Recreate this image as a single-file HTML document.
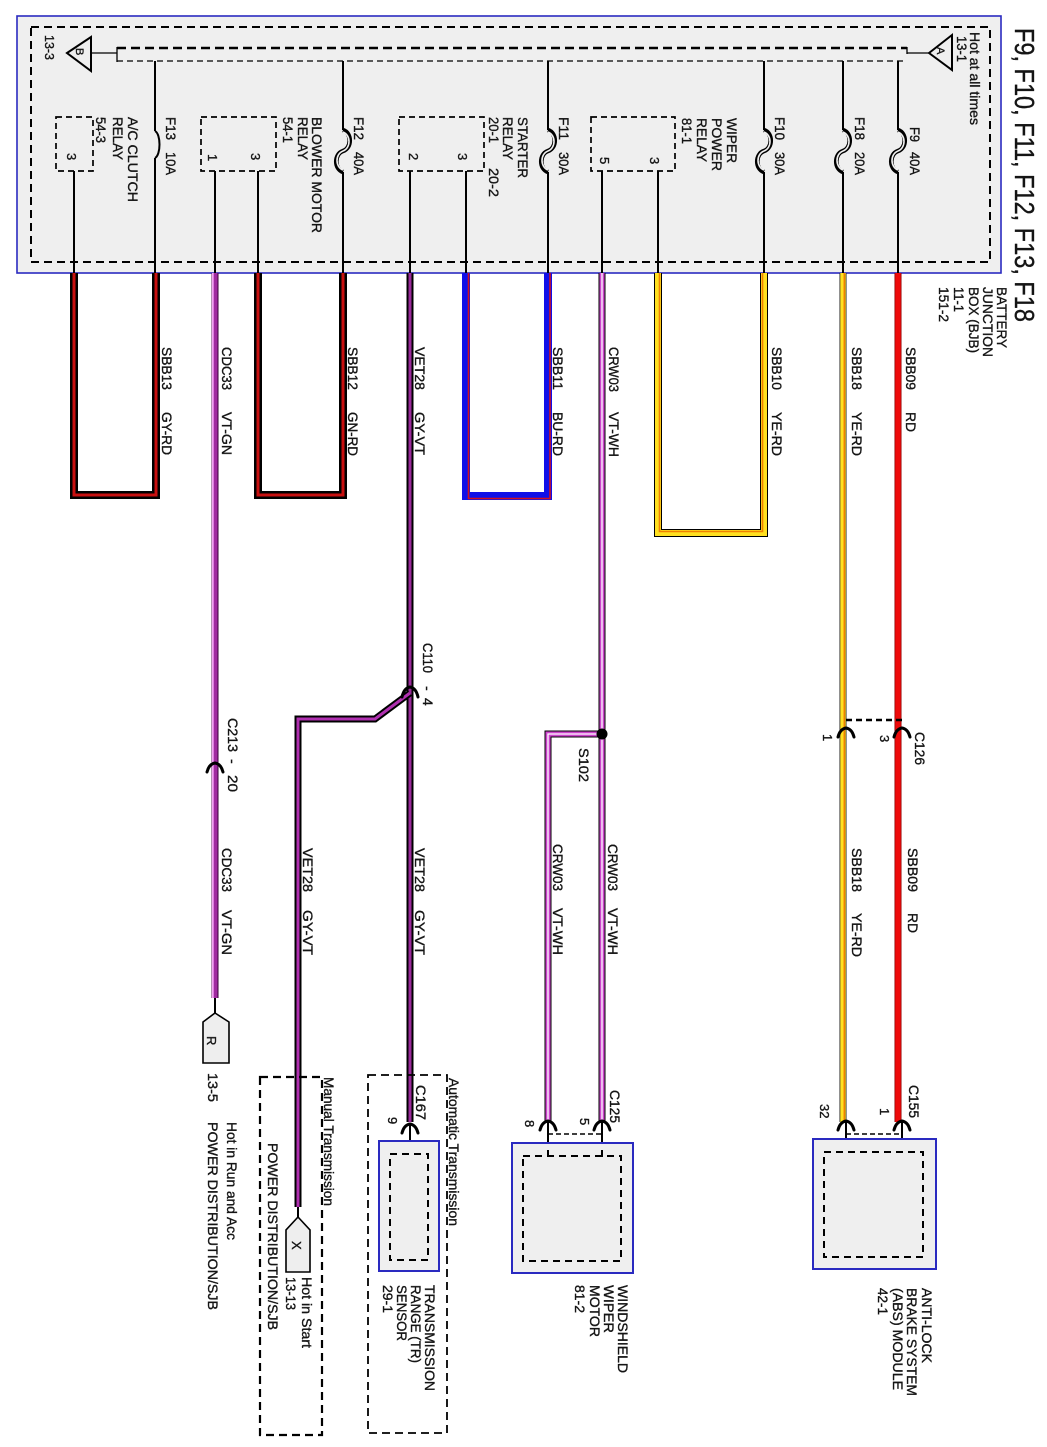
<!DOCTYPE html>
<html><head><meta charset="utf-8"><style>
html,body{margin:0;padding:0;background:#fff;}
svg{display:block;}
text{font-family:"Liberation Sans",Arial,sans-serif;fill:#151515;stroke:#151515;stroke-width:0.35;}
</style></head><body>
<svg width="1047" height="1447" viewBox="0 0 1047 1447" xmlns="http://www.w3.org/2000/svg">
<rect x="0" y="0" width="1047" height="1447" fill="#fff"/>

<!-- Junction box -->
<rect x="17" y="16" width="984" height="257" fill="#efefef" stroke="#2a2ac0" stroke-width="1.6"/>
<rect x="31" y="27" width="959" height="235" fill="none" stroke="#000" stroke-width="2" stroke-dasharray="8 5"/>

<!-- bus -->
<line x1="117" y1="48" x2="907" y2="48" stroke="#000" stroke-width="2.6" stroke-dasharray="9 5"/>
<line x1="117" y1="61" x2="907" y2="61" stroke="#000" stroke-width="1.3" stroke-dasharray="6 4"/>
<line x1="117" y1="47" x2="117" y2="62" stroke="#000" stroke-width="1.3"/>
<line x1="907" y1="47" x2="907" y2="54" stroke="#000" stroke-width="1.3"/>
<line x1="91" y1="53" x2="117" y2="53" stroke="#000" stroke-width="1.3"/>
<line x1="907" y1="53" x2="929" y2="53" stroke="#000" stroke-width="1.3"/>
<polygon points="67,53 91,37 91,71" fill="none" stroke="#000" stroke-width="2"/>
<polygon points="929,53 952,35 952,70" fill="none" stroke="#000" stroke-width="2"/>
<text transform="translate(76 48) rotate(90)" font-size="11">B</text>
<text transform="translate(937 47) rotate(90)" font-size="11">A</text>

<!-- relay boxes -->
<g fill="none" stroke="#000" stroke-width="1.7" stroke-dasharray="6 4">
<rect x="56" y="117" width="37" height="54"/>
<rect x="201" y="117" width="75" height="54"/>
<rect x="399" y="117" width="85" height="54"/>
<rect x="591" y="117" width="84" height="54"/>
</g>

<!-- internal thin wires -->
<g stroke="#000" stroke-width="2" fill="none">
<line x1="74" y1="171" x2="74" y2="274"/>
<line x1="215" y1="171" x2="215" y2="274"/>
<line x1="258" y1="171" x2="258" y2="274"/>
<line x1="410" y1="171" x2="410" y2="274"/>
<line x1="466" y1="171" x2="466" y2="274"/>
<line x1="602" y1="171" x2="602" y2="274"/>
<line x1="658" y1="171" x2="658" y2="274"/>
<line x1="155" y1="61" x2="155" y2="131"/><line x1="155" y1="158" x2="155" y2="274"/>
<line x1="343" y1="61" x2="343" y2="130"/><line x1="343" y1="172" x2="343" y2="274"/>
<line x1="548" y1="61" x2="548" y2="130"/><line x1="548" y1="172" x2="548" y2="274"/>
<line x1="764" y1="61" x2="764" y2="130"/><line x1="764" y1="172" x2="764" y2="274"/>
<line x1="843" y1="61" x2="843" y2="130"/><line x1="843" y1="172" x2="843" y2="274"/>
<line x1="898" y1="61" x2="898" y2="130"/><line x1="898" y1="172" x2="898" y2="274"/>
</g>
<!-- fuses -->
<g fill="none">
<path d="M155 131 C161 134,161 155,155 158" stroke="#000" stroke-width="2"/>
<g stroke="#000" stroke-width="4.6">
<path d="M343 130 C352 133,352 148,343 151 C334 154,334 169,343 172"/>
<path d="M548 130 C557 133,557 148,548 151 C539 154,539 169,548 172"/>
<path d="M764 130 C773 133,773 148,764 151 C755 154,755 169,764 172"/>
<path d="M843 130 C852 133,852 148,843 151 C834 154,834 169,843 172"/>
<path d="M898 130 C907 133,907 148,898 151 C889 154,889 169,898 172"/>
</g>
<g stroke="#efefef" stroke-width="1.6">
<path d="M343 132 C351 135,351 148,343 151 C335 154,335 167,343 170"/>
<path d="M548 132 C556 135,556 148,548 151 C540 154,540 167,548 170"/>
<path d="M764 132 C772 135,772 148,764 151 C756 154,756 167,764 170"/>
<path d="M843 132 C851 135,851 148,843 151 C835 154,835 167,843 170"/>
<path d="M898 132 C906 135,906 148,898 151 C890 154,890 167,898 170"/>
</g>
</g>

<!-- ===== external wires ===== -->
<g fill="none" stroke-linejoin="miter">
<path d="M74 273 V495 H156 V273" stroke="#000" stroke-width="8"/>
<path d="M74 273 V495 H156 V273" stroke="#c81010" stroke-width="3"/>
<path d="M258 273 V495 H343 V273" stroke="#000" stroke-width="8"/>
<path d="M258 273 V495 H343 V273" stroke="#c81010" stroke-width="3"/>
<path d="M466 273 V496 H548 V273" stroke="#1010e8" stroke-width="8"/>
<path d="M468.5 273 V498.5 H550 V273" stroke="#d01020" stroke-width="1.6"/>
<path d="M658 273 V533 H764 V273" stroke="#000" stroke-width="8"/>
<path d="M658 273 V533 H764 V273" stroke="#ffe020" stroke-width="6"/>
<path d="M659.5 273 V531.5 H762.5 V273" stroke="#f08000" stroke-width="1.6"/>

<path d="M215 273 V998" stroke="#3a003a" stroke-width="7"/>
<path d="M215 273 V998" stroke="#a02aa0" stroke-width="5"/>
<path d="M212.8 273 V998" stroke="#f2a4f2" stroke-width="1.8"/>
<line x1="215" y1="998" x2="215" y2="1013" stroke="#000" stroke-width="2"/>

<path d="M410 273 V1122" stroke="#000" stroke-width="7"/>
<path d="M410 273 V1122" stroke="#9a2a9a" stroke-width="3"/>
<path d="M410 693 L375 719 H298 V1207" stroke="#000" stroke-width="7"/>
<path d="M410 693 L375 719 H298 V1207" stroke="#b030b0" stroke-width="3"/>
<line x1="298" y1="1207" x2="298" y2="1217" stroke="#000" stroke-width="2"/>

<path d="M602 273 V1122" stroke="#000" stroke-width="7"/>
<path d="M602 273 V1122" stroke="#cc44cc" stroke-width="5"/>
<path d="M602 273 V1122" stroke="#fff" stroke-width="1.3"/>
<path d="M602 734 H548 V1122" stroke="#000" stroke-width="7"/>
<path d="M602 734 H548 V1122" stroke="#cc44cc" stroke-width="5"/>
<path d="M602 734 H548 V1122" stroke="#fff" stroke-width="1.3"/>

<path d="M843 273 V1122" stroke="#222" stroke-width="7"/>
<path d="M843 273 V1122" stroke="#ffe020" stroke-width="5.4"/>
<path d="M844.3 273 V1122" stroke="#f08000" stroke-width="1.5"/>

<path d="M898 273 V1122" stroke="#800" stroke-width="7"/>
<path d="M898 273 V1122" stroke="#ee0a0a" stroke-width="5.5"/>
</g>

<circle cx="602" cy="734" r="5.5" fill="#000"/>

<g fill="none" stroke="#000" stroke-width="3" stroke-linecap="round">
<path d="M402 697 Q404 688 410 687 Q416 688 418 697"/>
<path d="M207 772 Q209 764 215 763 Q221 764 223 772"/>
<path d="M838 737 Q840 729 846 728 Q852 729 854 737"/>
<path d="M894 737 Q896 729 902 728 Q908 729 910 737"/>
<path d="M540 1130 Q542 1122 548 1121 Q554 1122 556 1130"/>
<path d="M594 1130 Q596 1122 602 1121 Q608 1122 610 1130"/>
<path d="M838 1130 Q840 1122 846 1121 Q852 1122 854 1130"/>
<path d="M894 1130 Q896 1122 902 1121 Q908 1122 910 1130"/>
<path d="M402 1133 Q404 1125 410 1124 Q416 1125 418 1133"/>
</g>
<g stroke="#000" stroke-width="2">
<line x1="548" y1="1122" x2="548" y2="1157"/>
<line x1="602" y1="1122" x2="602" y2="1157"/>
<line x1="846" y1="1122" x2="846" y2="1153"/>
<line x1="902" y1="1122" x2="902" y2="1153"/>
<line x1="410" y1="1124" x2="410" y2="1155"/>
</g>
<line x1="846" y1="720" x2="902" y2="720" stroke="#000" stroke-width="2.4" stroke-dasharray="6 4"/>
<line x1="548" y1="1134" x2="602" y2="1134" stroke="#000" stroke-width="1.4" stroke-dasharray="5 3"/>
<line x1="846" y1="1134" x2="902" y2="1134" stroke="#000" stroke-width="1.4" stroke-dasharray="5 3"/>

<polygon points="215,1013 229,1022 229,1063 203,1063 203,1022" fill="#eee" stroke="#000" stroke-width="1.6"/>
<polygon points="298,1217 310,1230 310,1272 286,1272 286,1230" fill="#eee" stroke="#000" stroke-width="1.6"/>

<rect x="260" y="1077" width="62" height="358" fill="none" stroke="#000" stroke-width="2.2" stroke-dasharray="8 5"/>
<rect x="368" y="1075" width="79" height="358" fill="none" stroke="#000" stroke-width="1.8" stroke-dasharray="8 5"/>

<rect x="379" y="1141" width="60" height="130" fill="#efefef" stroke="#2a2ac0" stroke-width="2"/>
<rect x="390" y="1154" width="38" height="106" fill="none" stroke="#000" stroke-width="2" stroke-dasharray="7 5"/>
<rect x="512" y="1143" width="121" height="130" fill="#efefef" stroke="#2a2ac0" stroke-width="2"/>
<rect x="523" y="1156" width="98" height="105" fill="none" stroke="#000" stroke-width="2" stroke-dasharray="7 5"/>
<rect x="813" y="1139" width="123" height="130" fill="#efefef" stroke="#2a2ac0" stroke-width="2"/>
<rect x="824" y="1152" width="99" height="105" fill="none" stroke="#000" stroke-width="2" stroke-dasharray="7 5"/>
<g stroke="#000" stroke-width="2">
<line x1="548" y1="1150" x2="548" y2="1157"/>
<line x1="602" y1="1150" x2="602" y2="1157"/>
</g>

<!-- ===== TEXT ===== -->
<g font-size="14">
<text transform="translate(1015 28) rotate(90)" font-size="28" textLength="294" lengthAdjust="spacingAndGlyphs">F9, F10, F11, F12, F13, F18</text>

<text transform="translate(997 287) rotate(90)" textLength="61" lengthAdjust="spacingAndGlyphs">BATTERY</text>
<text transform="translate(983 287) rotate(90)" textLength="70" lengthAdjust="spacingAndGlyphs">JUNCTION</text>
<text transform="translate(969 287) rotate(90)" textLength="66" lengthAdjust="spacingAndGlyphs">BOX (BJB)</text>
<text transform="translate(954 287) rotate(90)" textLength="25" lengthAdjust="spacingAndGlyphs">11-1</text>
<text transform="translate(939 287) rotate(90)" textLength="35" lengthAdjust="spacingAndGlyphs">151-2</text>

<text transform="translate(45 35) rotate(90)" font-size="13" textLength="25" lengthAdjust="spacingAndGlyphs">13-3</text>
<text transform="translate(128 117) rotate(90)" textLength="85" lengthAdjust="spacingAndGlyphs">A/C CLUTCH</text>
<text transform="translate(113 117) rotate(90)" textLength="43" lengthAdjust="spacingAndGlyphs">RELAY</text>
<text transform="translate(96 117) rotate(90)" textLength="26" lengthAdjust="spacingAndGlyphs">54-3</text>
<text transform="translate(67 153) rotate(90)" font-size="13">3</text>
<text transform="translate(166 117) rotate(90)" textLength="23" lengthAdjust="spacingAndGlyphs">F13</text>
<text transform="translate(166 152) rotate(90)" textLength="23" lengthAdjust="spacingAndGlyphs">10A</text>

<text transform="translate(208 154) rotate(90)" font-size="13">1</text>
<text transform="translate(251 153) rotate(90)" font-size="13">3</text>
<text transform="translate(312 117) rotate(90)" textLength="116" lengthAdjust="spacingAndGlyphs">BLOWER MOTOR</text>
<text transform="translate(298 117) rotate(90)" textLength="43" lengthAdjust="spacingAndGlyphs">RELAY</text>
<text transform="translate(283 117) rotate(90)" textLength="26" lengthAdjust="spacingAndGlyphs">54-1</text>
<text transform="translate(354 117) rotate(90)" textLength="23" lengthAdjust="spacingAndGlyphs">F12</text>
<text transform="translate(354 152) rotate(90)" textLength="23" lengthAdjust="spacingAndGlyphs">40A</text>

<text transform="translate(409 153) rotate(90)" font-size="13">2</text>
<text transform="translate(458 153) rotate(90)" font-size="13">3</text>
<text transform="translate(518 117) rotate(90)" textLength="61" lengthAdjust="spacingAndGlyphs">STARTER</text>
<text transform="translate(503 117) rotate(90)" textLength="43" lengthAdjust="spacingAndGlyphs">RELAY</text>
<text transform="translate(489 117) rotate(90)" textLength="26" lengthAdjust="spacingAndGlyphs">20-1</text>
<text transform="translate(489 168) rotate(90)" textLength="29" lengthAdjust="spacingAndGlyphs">20-2</text>
<text transform="translate(559 117) rotate(90)" textLength="23" lengthAdjust="spacingAndGlyphs">F11</text>
<text transform="translate(559 152) rotate(90)" textLength="23" lengthAdjust="spacingAndGlyphs">30A</text>

<text transform="translate(600 157) rotate(90)" font-size="13">5</text>
<text transform="translate(650 157) rotate(90)" font-size="13">3</text>
<text transform="translate(727 118) rotate(90)" textLength="45" lengthAdjust="spacingAndGlyphs">WIPER</text>
<text transform="translate(712 118) rotate(90)" textLength="53" lengthAdjust="spacingAndGlyphs">POWER</text>
<text transform="translate(697 118) rotate(90)" textLength="44" lengthAdjust="spacingAndGlyphs">RELAY</text>
<text transform="translate(682 118) rotate(90)" textLength="26" lengthAdjust="spacingAndGlyphs">81-1</text>
<text transform="translate(775 117) rotate(90)" textLength="23" lengthAdjust="spacingAndGlyphs">F10</text>
<text transform="translate(775 152) rotate(90)" textLength="23" lengthAdjust="spacingAndGlyphs">30A</text>
<text transform="translate(855 117) rotate(90)" textLength="23" lengthAdjust="spacingAndGlyphs">F18</text>
<text transform="translate(855 152) rotate(90)" textLength="23" lengthAdjust="spacingAndGlyphs">20A</text>
<text transform="translate(910 127) rotate(90)" textLength="15" lengthAdjust="spacingAndGlyphs">F9</text>
<text transform="translate(910 152) rotate(90)" textLength="23" lengthAdjust="spacingAndGlyphs">40A</text>
<text transform="translate(970 32) rotate(90)" textLength="93" lengthAdjust="spacingAndGlyphs">Hot at all times</text>
<text transform="translate(957 36) rotate(90)" textLength="26" lengthAdjust="spacingAndGlyphs">13-1</text>

<g>
<text transform="translate(162 347) rotate(90)" textLength="43" lengthAdjust="spacingAndGlyphs">SBB13</text>
<text transform="translate(162 412) rotate(90)" textLength="43" lengthAdjust="spacingAndGlyphs">GY-RD</text>
<text transform="translate(222 347) rotate(90)" textLength="43" lengthAdjust="spacingAndGlyphs">CDC33</text>
<text transform="translate(222 412) rotate(90)" textLength="43" lengthAdjust="spacingAndGlyphs">VT-GN</text>
<text transform="translate(348 347) rotate(90)" textLength="43" lengthAdjust="spacingAndGlyphs">SBB12</text>
<text transform="translate(348 412) rotate(90)" textLength="44" lengthAdjust="spacingAndGlyphs">GN-RD</text>
<text transform="translate(415 347) rotate(90)" textLength="43" lengthAdjust="spacingAndGlyphs">VET28</text>
<text transform="translate(415 412) rotate(90)" textLength="43" lengthAdjust="spacingAndGlyphs">GY-VT</text>
<text transform="translate(553 347) rotate(90)" textLength="43" lengthAdjust="spacingAndGlyphs">SBB11</text>
<text transform="translate(553 412) rotate(90)" textLength="44" lengthAdjust="spacingAndGlyphs">BU-RD</text>
<text transform="translate(609 347) rotate(90)" textLength="45" lengthAdjust="spacingAndGlyphs">CRW03</text>
<text transform="translate(609 412) rotate(90)" textLength="45" lengthAdjust="spacingAndGlyphs">VT-WH</text>
<text transform="translate(772 347) rotate(90)" textLength="43" lengthAdjust="spacingAndGlyphs">SBB10</text>
<text transform="translate(772 412) rotate(90)" textLength="44" lengthAdjust="spacingAndGlyphs">YE-RD</text>
<text transform="translate(852 347) rotate(90)" textLength="43" lengthAdjust="spacingAndGlyphs">SBB18</text>
<text transform="translate(852 412) rotate(90)" textLength="44" lengthAdjust="spacingAndGlyphs">YE-RD</text>
<text transform="translate(906 347) rotate(90)" textLength="43" lengthAdjust="spacingAndGlyphs">SBB09</text>
<text transform="translate(906 412) rotate(90)" textLength="20" lengthAdjust="spacingAndGlyphs">RD</text>
</g>

<g>
<text transform="translate(222 848) rotate(90)" textLength="44" lengthAdjust="spacingAndGlyphs">CDC33</text>
<text transform="translate(222 910) rotate(90)" textLength="45" lengthAdjust="spacingAndGlyphs">VT-GN</text>
<text transform="translate(303 848) rotate(90)" textLength="44" lengthAdjust="spacingAndGlyphs">VET28</text>
<text transform="translate(303 910) rotate(90)" textLength="45" lengthAdjust="spacingAndGlyphs">GY-VT</text>
<text transform="translate(415 848) rotate(90)" textLength="44" lengthAdjust="spacingAndGlyphs">VET28</text>
<text transform="translate(415 910) rotate(90)" textLength="45" lengthAdjust="spacingAndGlyphs">GY-VT</text>
<text transform="translate(553 844) rotate(90)" textLength="47" lengthAdjust="spacingAndGlyphs">CRW03</text>
<text transform="translate(553 908) rotate(90)" textLength="47" lengthAdjust="spacingAndGlyphs">VT-WH</text>
<text transform="translate(608 844) rotate(90)" textLength="47" lengthAdjust="spacingAndGlyphs">CRW03</text>
<text transform="translate(608 908) rotate(90)" textLength="47" lengthAdjust="spacingAndGlyphs">VT-WH</text>
<text transform="translate(852 848) rotate(90)" textLength="44" lengthAdjust="spacingAndGlyphs">SBB18</text>
<text transform="translate(852 913) rotate(90)" textLength="44" lengthAdjust="spacingAndGlyphs">YE-RD</text>
<text transform="translate(908 848) rotate(90)" textLength="44" lengthAdjust="spacingAndGlyphs">SBB09</text>
<text transform="translate(908 913) rotate(90)" textLength="20" lengthAdjust="spacingAndGlyphs">RD</text>
</g>

<text transform="translate(423 643) rotate(90)" textLength="30" lengthAdjust="spacingAndGlyphs">C110</text>
<text transform="translate(423 686) rotate(90)">-</text>
<text transform="translate(423 698) rotate(90)">4</text>
<text transform="translate(228 718) rotate(90)" textLength="34" lengthAdjust="spacingAndGlyphs">C213</text>
<text transform="translate(228 759) rotate(90)">-</text>
<text transform="translate(228 775) rotate(90)" textLength="17" lengthAdjust="spacingAndGlyphs">20</text>
<text transform="translate(579 748) rotate(90)" textLength="34" lengthAdjust="spacingAndGlyphs">S102</text>
<text transform="translate(915 732) rotate(90)" textLength="33" lengthAdjust="spacingAndGlyphs">C126</text>
<text transform="translate(880 735) rotate(90)" font-size="13">3</text>
<text transform="translate(823 734) rotate(90)" font-size="13">1</text>
<text transform="translate(909 1085) rotate(90)" textLength="33" lengthAdjust="spacingAndGlyphs">C155</text>
<text transform="translate(880 1108) rotate(90)" font-size="13">1</text>
<text transform="translate(820 1104) rotate(90)" font-size="13">32</text>
<text transform="translate(610 1090) rotate(90)" textLength="33" lengthAdjust="spacingAndGlyphs">C125</text>
<text transform="translate(580 1118) rotate(90)" font-size="13">5</text>
<text transform="translate(525 1120) rotate(90)" font-size="13">8</text>
<text transform="translate(416 1085) rotate(90)" textLength="35" lengthAdjust="spacingAndGlyphs">C167</text>
<text transform="translate(388 1117) rotate(90)" font-size="13">9</text>

<text transform="translate(207 1036) rotate(90)" font-size="13">R</text>
<text transform="translate(208 1073) rotate(90)" textLength="29" lengthAdjust="spacingAndGlyphs">13-5</text>
<text transform="translate(227 1122) rotate(90)" textLength="118" lengthAdjust="spacingAndGlyphs">Hot in Run and Acc</text>
<text transform="translate(208 1122) rotate(90)" textLength="188" lengthAdjust="spacingAndGlyphs">POWER DISTRIBUTION/SJB</text>

<text transform="translate(292 1241) rotate(90)" font-size="13">X</text>
<text transform="translate(302 1277) rotate(90)" textLength="71" lengthAdjust="spacingAndGlyphs">Hot in Start</text>
<text transform="translate(286 1277) rotate(90)" textLength="33" lengthAdjust="spacingAndGlyphs">13-13</text>
<text transform="translate(268 1143) rotate(90)" textLength="187" lengthAdjust="spacingAndGlyphs">POWER DISTRIBUTION/SJB</text>
<text transform="translate(324 1077) rotate(90)" textLength="129" lengthAdjust="spacingAndGlyphs">Manual Transmission</text>
<text transform="translate(449 1078) rotate(90)" textLength="148" lengthAdjust="spacingAndGlyphs">Automatic Transmission</text>

<text transform="translate(425 1285) rotate(90)" textLength="106" lengthAdjust="spacingAndGlyphs">TRANSMISSION</text>
<text transform="translate(411 1285) rotate(90)" textLength="78" lengthAdjust="spacingAndGlyphs">RANGE (TR)</text>
<text transform="translate(397 1285) rotate(90)" textLength="56" lengthAdjust="spacingAndGlyphs">SENSOR</text>
<text transform="translate(383 1285) rotate(90)" textLength="28" lengthAdjust="spacingAndGlyphs">29-1</text>

<text transform="translate(618 1285) rotate(90)" textLength="88" lengthAdjust="spacingAndGlyphs">WINDSHIELD</text>
<text transform="translate(604 1285) rotate(90)" textLength="48" lengthAdjust="spacingAndGlyphs">WIPER</text>
<text transform="translate(590 1285) rotate(90)" textLength="52" lengthAdjust="spacingAndGlyphs">MOTOR</text>
<text transform="translate(575 1285) rotate(90)" textLength="28" lengthAdjust="spacingAndGlyphs">81-2</text>

<text transform="translate(922 1288) rotate(90)" textLength="75" lengthAdjust="spacingAndGlyphs">ANTI-LOCK</text>
<text transform="translate(907 1288) rotate(90)" textLength="108" lengthAdjust="spacingAndGlyphs">BRAKE SYSTEM</text>
<text transform="translate(893 1288) rotate(90)" textLength="102" lengthAdjust="spacingAndGlyphs">(ABS) MODULE</text>
<text transform="translate(878 1288) rotate(90)" textLength="27" lengthAdjust="spacingAndGlyphs">42-1</text>
</g>
</svg>
</body></html>
